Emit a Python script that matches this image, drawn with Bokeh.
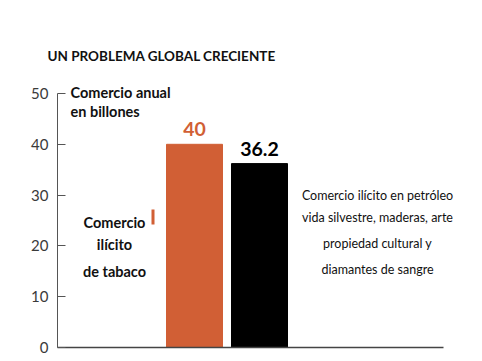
from bokeh.plotting import figure
from bokeh.models import Range1d, Label, FixedTicker, BoxAnnotation, ColumnDataSource
from bokeh.embed import file_html
from bokeh.resources import INLINE

# ---- data ----
categories = ["Comercio ilícito de tabaco", "Otros comercios ilícitos"]
values = [40, 36.2]
value_labels = ["40", "36.2"]
colors = ["#D15F35", "#000000"]
y_ticks = [0, 10, 20, 30, 40, 50]
title_text = "UN PROBLEMA GLOBAL CRECIENTE"
unit_lines = ["Comercio anual", "en billones"]
left_lines = ["Comercio", "ilícito", "de tabaco"]
right_lines = ["Comercio ilícito en petróleo", "vida silvestre, maderas, arte",
               "propiedad cultural y", "diamantes de sangre"]

# ---- layout constants ----
W, H = 482, 361
AXIS_X = 57          # px position of the y axis
BASE_Y = 347         # px position of y = 0
PX_PER_UNIT = 5.08
AXIS_LEN = 386       # length of the baseline in px
bar_w = 56
bar_step = 65
first_center = 137

p = figure(width=W, height=H, output_backend="svg", toolbar_location=None,
           x_range=Range1d(-AXIS_X, W - AXIS_X),
           y_range=Range1d(-(H - BASE_Y) / PX_PER_UNIT, BASE_Y / PX_PER_UNIT),
           min_border_left=0, min_border_right=0,
           min_border_top=0, min_border_bottom=0)
p.outline_line_color = None
p.grid.visible = False
p.xaxis.visible = False
p.background_fill_color = "white"
p.border_fill_color = "white"

ya = p.yaxis[0]
ya.fixed_location = 0
ya.ticker = FixedTicker(ticks=y_ticks)
ya.bounds = (0, 50)
ya.axis_line_color = "#555555"
ya.axis_line_width = 1
ya.major_tick_in = 8
ya.major_tick_out = 0
ya.major_tick_line_color = "#555555"
ya.minor_tick_line_color = None
ya.major_label_standoff = 9
ya.major_label_text_font = "Lato"
ya.major_label_text_font_size = "15px"
ya.major_label_text_color = "#3a3a3a"

xs = [first_center + i * bar_step for i in range(len(values))]
src = ColumnDataSource(dict(x=xs, top=values, color=colors, cat=categories))
p.vbar(x="x", top="top", bottom=0, width=bar_w, color="color", source=src)

# baseline
p.segment(x0=[0], x1=[AXIS_LEN], y0=[0], y1=[0], line_color="#444444", line_width=1.5)

def lab(x, y, text, size, color="#111111", style="bold", align="left", font="Lato"):
    p.add_layout(Label(x=x, y=y, text=text, text_font=font, text_font_size=size,
                       text_color=color, text_font_style=style,
                       text_align=align, text_baseline="middle"))

def ydata(py):
    return (BASE_Y - py) / PX_PER_UNIT

lab(-10, ydata(55), title_text, "13.5px")
for i, t in enumerate(unit_lines):
    lab(13, ydata(92 + i * 19), t, "14.5px")

for x, v, t, c in zip(xs, values, value_labels, colors):
    lab(x, v + 15 / PX_PER_UNIT, t, "19.5px", color=c, align="center")

for t, py in zip(left_lines, [222, 244, 271]):
    lab(57, ydata(py), t, "14.5px", align="center")

p.add_layout(BoxAnnotation(left=94, right=97, bottom=ydata(224), top=ydata(209),
                           fill_color=colors[0], fill_alpha=1, line_color=None))

for t, py in zip(right_lines, [195, 217, 243, 269]):
    lab(320, ydata(py), t, "12.5px", style="normal", align="center")

open("out.html", "w").write(file_html(p, INLINE))
